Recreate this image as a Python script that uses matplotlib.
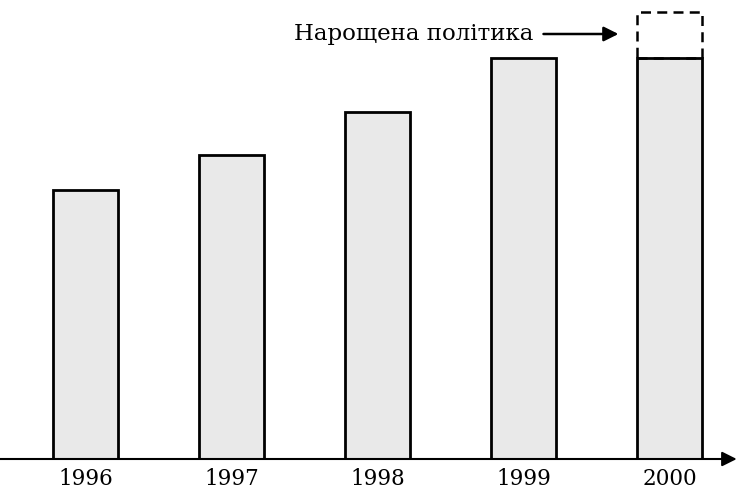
import matplotlib.pyplot as plt

years = ["1996", "1997", "1998", "1999", "2000"]
values = [269, 304, 347, 401, 401]
extra = [0, 0, 0, 0, 46]   # нарощена політика (only 2000)
label = "Нарощена політика"

plt.rcParams['font.family'] = ['DejaVu Serif']

fig = plt.figure(figsize=(7.38, 4.95), dpi=100)
ax = fig.add_axes([0, 36 / 495, 1, 459 / 495])

x = list(range(len(years)))
w = 0.45

ax.bar(x, values, width=w, color='#e9e9e9', edgecolor='black', linewidth=2)
ax.bar(x[-1], extra[-1], bottom=values[-1], width=w, fill=False,
       edgecolor='black', linewidth=1.8, linestyle=(0, (4, 2.5)))

ax.set_xlim(-0.586, 4.469)
ax.set_ylim(0, 459)
ax.axis('off')

# x axis with arrow
ax.annotate('', xy=(4.46, 0), xytext=(-0.586, 0),
            arrowprops=dict(arrowstyle='-|>', color='black', lw=1.5,
                            mutation_scale=22, shrinkA=0, shrinkB=0),
            annotation_clip=False)

for xi, yr in zip(x, years):
    ax.text(xi, -20, yr, ha='center', va='center', fontsize=15.5)

# label with arrow
ax.annotate(label, xy=(x[-1] - 0.35, values[-1] + extra[-1] / 2 + 1),
            xytext=(x[-1] - 0.93, values[-1] + extra[-1] / 2 + 1),
            ha='right', va='center', fontsize=16.5,
            arrowprops=dict(arrowstyle='-|>', color='black', lw=1.8,
                            mutation_scale=22, shrinkA=5, shrinkB=0))

fig.savefig('out.png', dpi=100, facecolor='white')
